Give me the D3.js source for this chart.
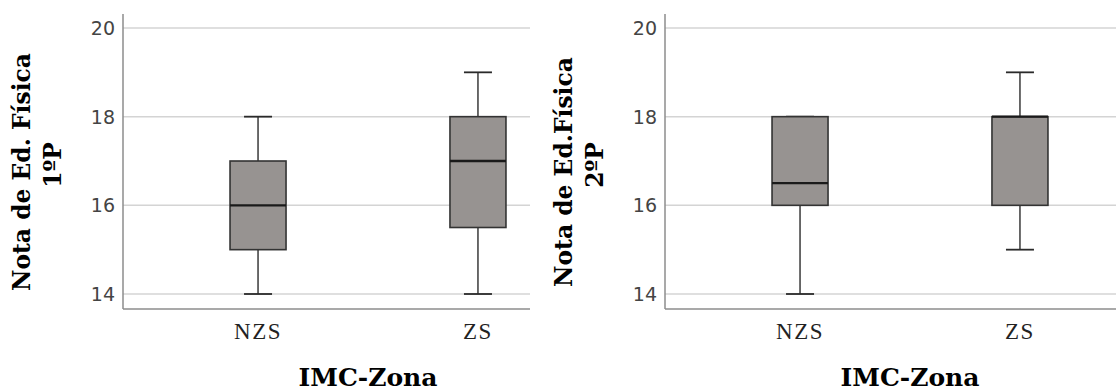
<!DOCTYPE html>
<html><head><meta charset="utf-8">
<script src="https://cdn.jsdelivr.net/npm/d3@7"></script>
<style>body{margin:0;background:#fff}svg{display:block}</style>
</head><body>
<svg id="c" width="1116" height="392"></svg>
<script>
const categories = ["NZS", "ZS"];
const yTicks = [14, 16, 18, 20];
const panel1Title = ["Nota de Ed. Física", "1ºP"];
const panel2Title = ["Nota de Ed.Física", "2ºP"];
const xTitle = "IMC-Zona";
// [min, q1, median, q3, max] per category
const panel1Stats = [[14, 15, 16, 17, 18], [14, 15.5, 17, 18, 19]];
const panel2Stats = [[14, 16, 16.5, 18, 18], [15, 16, 18, 18, 19]];

const svg = d3.select("#c");
const plotTop = 14, plotBottom = 309;
const y = d3.scaleLinear().domain([14, 20]).range([294, 28]);

function panel(axisX, clipRight, stats, title) {
  const g = svg.append("g");
  const x = d3.scalePoint().domain(categories).range([axisX, axisX + 490]).padding(0.614);
  g.selectAll(".grid").data(yTicks).join("line")
    .attr("x1", axisX).attr("x2", clipRight)
    .attr("y1", d => y(d)).attr("y2", d => y(d))
    .attr("stroke", "#d4d4d4").attr("stroke-width", 1.5);
  g.append("line").attr("x1", axisX).attr("x2", axisX).attr("y1", plotTop).attr("y2", plotBottom)
    .attr("stroke", "#8c8c8c").attr("stroke-width", 1.5);
  g.append("line").attr("x1", axisX).attr("x2", clipRight).attr("y1", plotBottom).attr("y2", plotBottom)
    .attr("stroke", "#8c8c8c").attr("stroke-width", 1.5);
  g.selectAll(".yt").data(yTicks).join("text")
    .attr("x", axisX - 8).attr("y", d => y(d)).attr("dy", "0.36em")
    .attr("text-anchor", "end").attr("font-family", "DejaVu Sans").attr("font-size", 19)
    .attr("fill", "#444").text(d => d);
  g.selectAll(".xt").data(categories).join("text")
    .attr("x", d => x(d)).attr("y", 339)
    .attr("text-anchor", "middle").attr("font-family", "Liberation Serif").attr("font-size", 23)
    .attr("letter-spacing", 1.5)
    .attr("fill", "#222").text(d => d);
  const bw = 56, cw = 28;
  const bx = g.selectAll(".box").data(stats).join("g");
  bx.append("line").attr("x1", (d, i) => x(categories[i])).attr("x2", (d, i) => x(categories[i]))
    .attr("y1", d => y(d[0])).attr("y2", d => y(d[1])).attr("stroke", "#3a3a3a").attr("stroke-width", 1.5);
  bx.append("line").attr("x1", (d, i) => x(categories[i])).attr("x2", (d, i) => x(categories[i]))
    .attr("y1", d => y(d[3])).attr("y2", d => y(d[4])).attr("stroke", "#3a3a3a").attr("stroke-width", 1.5);
  [0, 4].forEach(k => {
    bx.append("line").attr("x1", (d, i) => x(categories[i]) - cw / 2).attr("x2", (d, i) => x(categories[i]) + cw / 2)
      .attr("y1", d => y(d[k])).attr("y2", d => y(d[k])).attr("stroke", "#2a2a2a").attr("stroke-width", 1.8);
  });
  bx.append("rect").attr("x", (d, i) => x(categories[i]) - bw / 2).attr("width", bw)
    .attr("y", d => y(d[3])).attr("height", d => y(d[1]) - y(d[3]))
    .attr("fill", "#979391").attr("stroke", "#333").attr("stroke-width", 1.6);
  bx.append("line").attr("x1", (d, i) => x(categories[i]) - bw / 2).attr("x2", (d, i) => x(categories[i]) + bw / 2)
    .attr("y1", d => y(d[2])).attr("y2", d => y(d[2])).attr("stroke", "#1a1a1a").attr("stroke-width", 2.4);
  g.append("text").attr("x", axisX + 245).attr("y", 386).attr("text-anchor", "middle")
    .attr("font-family", "DejaVu Serif").attr("font-weight", "bold").attr("font-size", 25)
    .attr("fill", "#000").text(xTitle);
  g.append("text").attr("transform", `translate(${axisX - 101},172) rotate(-90)`)
    .attr("text-anchor", "middle").attr("dy", "0.36em")
    .attr("font-family", "DejaVu Serif").attr("font-weight", "bold").attr("font-size", 23.4)
    .attr("fill", "#000").text(title[0]);
  g.append("text").attr("transform", `translate(${axisX - 70},165) rotate(-90)`)
    .attr("text-anchor", "middle").attr("dy", "0.36em")
    .attr("font-family", "DejaVu Serif").attr("font-weight", "bold").attr("font-size", 23.4)
    .attr("fill", "#000").text(title[1]);
}
panel(123, 530, panel1Stats, panel1Title);
panel(665, 1116, panel2Stats, panel2Title);
</script>
</body></html>
